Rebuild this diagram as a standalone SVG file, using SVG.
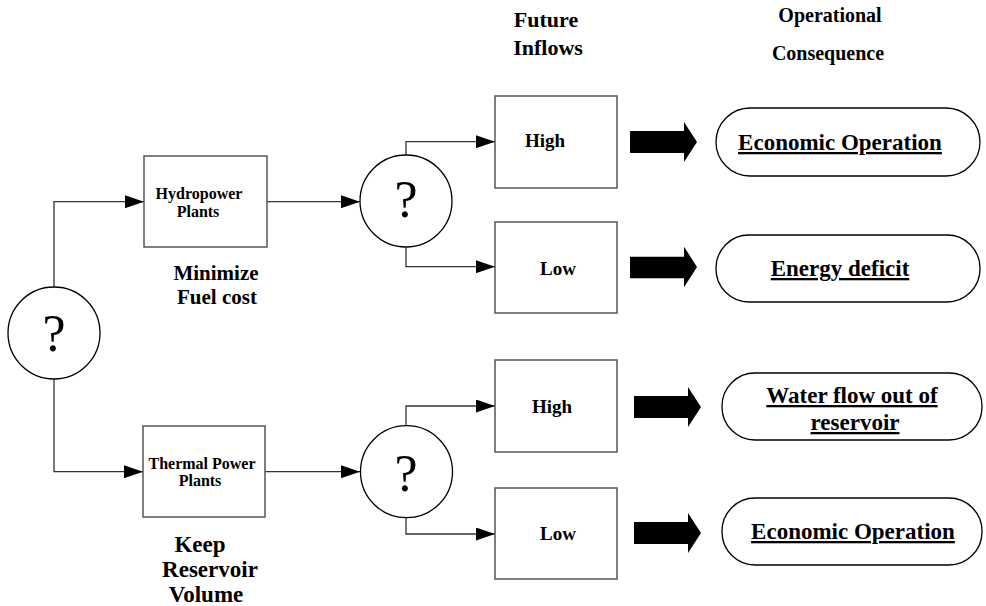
<svg xmlns="http://www.w3.org/2000/svg" width="986" height="606" viewBox="0 0 986 606">
<defs>
<marker id="ah" markerWidth="19" markerHeight="13" refX="19" refY="6.5" orient="auto" markerUnits="userSpaceOnUse">
<path d="M0,0 L19,6.5 L0,13 Z" fill="#000"/>
</marker>
<style>
.t{font-family:"Liberation Serif","Times New Roman",serif;font-weight:bold;fill:#000;text-anchor:middle}
.q{font-family:"Liberation Serif","Times New Roman",serif;font-size:52px;fill:#000;text-anchor:middle}
.box{fill:#fff;stroke:#555;stroke-width:1.5}
.circ{fill:#fff;stroke:#000;stroke-width:1.3}
.pill{fill:#fff;stroke:#000;stroke-width:1.3}
.ln{fill:none;stroke:#333;stroke-width:1.3}
.u{text-decoration:underline}
.blk{fill:#000}
</style>
</defs>
<rect width="986" height="606" fill="#fff"/>

<g id="connectors">
<path class="ln" d="M54,287 V201.7 H144" marker-end="url(#ah)"/>
<path class="ln" d="M54,379 V471.7 H143" marker-end="url(#ah)"/>
<path class="ln" d="M267,201.7 H360" marker-end="url(#ah)"/>
<path class="ln" d="M265,471.7 H360" marker-end="url(#ah)"/>
<path class="ln" d="M406,155 V141.7 H495" marker-end="url(#ah)"/>
<path class="ln" d="M406,247.5 V266.7 H495" marker-end="url(#ah)"/>
<path class="ln" d="M406,425.7 V406 H495" marker-end="url(#ah)"/>
<path class="ln" d="M406,517.7 V534 H495" marker-end="url(#ah)"/>
<path class="blk" d="M630,131 H684 V122 L697,142 L684,162 V153 H630 Z"/>
<path class="blk" d="M630,256.7 H684 V246.7 L697,267 L684,287.3 V278.3 H630 Z"/>
<path class="blk" d="M634,396 H688 V387 L701,407 L688,427 V418 H634 Z"/>
<path class="blk" d="M634,522 H688 V513 L701,533 L688,553 V544 H634 Z"/>
</g>

<g id="headers">
<text class="t" x="546" y="27" font-size="22">Future</text>
<text class="t" x="548" y="55" font-size="22">Inflows</text>
<text class="t" x="830" y="22" font-size="20">Operational</text>
<text class="t" x="828" y="60" font-size="20">Consequence</text>
</g>

<g id="decision-main">
<circle class="circ" cx="54" cy="333" r="46"/>
<text class="q" x="54" y="351">?</text>
</g>

<g id="hydropower">
<rect class="box" x="144" y="156" width="123" height="91"/>
<text class="t" x="199" y="199" font-size="16">Hydropower</text>
<text class="t" x="198" y="217" font-size="16">Plants</text>
</g>
<g id="label-minimize">
<text class="t" x="216" y="280" font-size="21">Minimize</text>
<text class="t" x="217" y="304" font-size="21">Fuel cost</text>
</g>

<g id="thermal">
<rect class="box" x="143" y="426" width="122" height="91"/>
<text class="t" x="202" y="469" font-size="16">Thermal Power</text>
<text class="t" x="200" y="486" font-size="16">Plants</text>
</g>
<g id="label-keep">
<text class="t" x="200" y="552" font-size="23">Keep</text>
<text class="t" x="210" y="577" font-size="23">Reservoir</text>
<text class="t" x="206" y="602" font-size="23">Volume</text>
</g>

<g id="decision-hydro">
<circle class="circ" cx="406" cy="201" r="46"/>
<text class="q" x="406" y="217">?</text>
</g>
<g id="decision-thermal">
<circle class="circ" cx="406.5" cy="471.7" r="46"/>
<text class="q" x="406" y="491">?</text>
</g>

<g id="high1">
<rect class="box" x="495" y="96" width="122" height="92"/>
<text class="t" x="545" y="147" font-size="19">High</text>
</g>
<g id="low1">
<rect class="box" x="495" y="222" width="122" height="91"/>
<text class="t" x="558" y="275" font-size="19">Low</text>
</g>
<g id="high2">
<rect class="box" x="495" y="360" width="122" height="92"/>
<text class="t" x="552" y="413" font-size="19">High</text>
</g>
<g id="low2">
<rect class="box" x="495" y="488" width="122" height="91"/>
<text class="t" x="558" y="540" font-size="19">Low</text>
</g>

<g id="result1">
<rect class="pill" x="716" y="108" width="264" height="68" rx="34"/>
<text class="t u" x="840" y="150" font-size="23">Economic Operation</text>
</g>
<g id="result2">
<rect class="pill" x="716" y="235" width="264" height="67" rx="33"/>
<text class="t u" x="840" y="276" font-size="23">Energy deficit</text>
</g>
<g id="result3">
<rect class="pill" x="722" y="373" width="260" height="67" rx="33"/>
<text class="t u" x="852" y="403" font-size="23">Water flow out of</text>
<text class="t u" x="855" y="430" font-size="23">reservoir</text>
</g>
<g id="result4">
<rect class="pill" x="722" y="498" width="260" height="67" rx="33"/>
<text class="t u" x="853" y="539" font-size="23">Economic Operation</text>
</g>
</svg>
